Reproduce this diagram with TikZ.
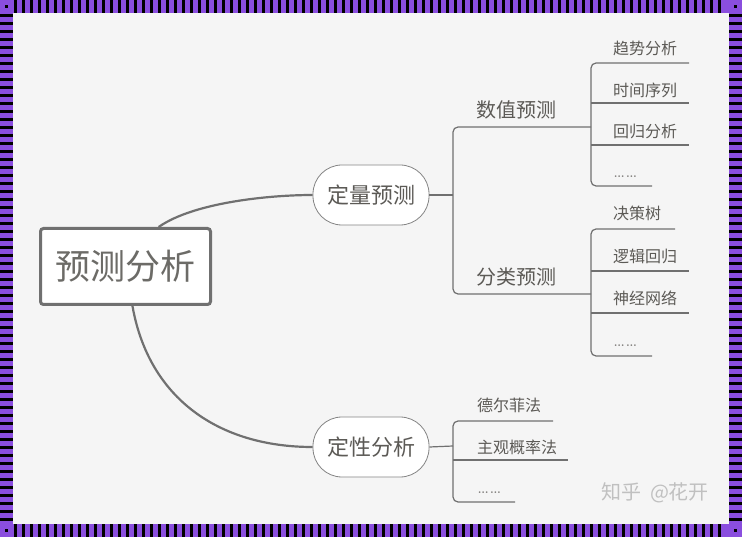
\documentclass[tikz,border=0pt]{standalone}
\usepackage{fontspec}
\newfontfamily\cjk{Noto Sans CJK SC}
\usetikzlibrary{positioning}

\definecolor{framepurple}{RGB}{138,78,222}
\definecolor{paper}{RGB}{245,245,245}
\definecolor{linegray}{RGB}{112,112,112}
\definecolor{textgray}{RGB}{92,90,86}
\definecolor{markgray}{RGB}{192,192,192}

\tikzset{
  root/.style={draw=linegray, line width=3pt, fill=white, rounded corners=3pt,
    minimum width=170pt, minimum height=76pt, inner sep=0pt,
    font=\cjk\fontsize{35pt}{40pt}\selectfont, text=textgray!90},
  topic/.style={draw=linegray!85, line width=0.8pt, fill=white, rounded corners=29pt,
    minimum width=116pt, minimum height=60pt, inner sep=0pt,
    font=\cjk\fontsize{22pt}{26pt}\selectfont, text=textgray},
  sub/.style={inner sep=0pt, font=\cjk\fontsize{20pt}{24pt}\selectfont, text=textgray},
  leaf/.style={anchor=west, inner sep=0pt, font=\cjk\fontsize{16pt}{19pt}\selectfont, text=textgray},
  more/.style={anchor=west, inner sep=0pt, font=\fontsize{21pt}{24pt}\selectfont, text=textgray!80},
  curve/.style={draw=linegray, line width=2.2pt},
  branch/.style={draw=linegray, line width=1.2pt, rounded corners=5pt},
}

\begin{document}
\begin{tikzpicture}[x=1pt, y=1pt]
\useasboundingbox (0,0) rectangle (742,-537);

% Frame
\fill[framepurple] (0,0) rectangle (742,-537);
\fill[paper] (13,-13) rectangle (729,-524);
\foreach \i in {0,...,88} {
  \fill[black] (14+8*\i,0) rectangle ++(3,-13);
  \fill[black] (14+8*\i,-524) rectangle ++(3,-13);
}
\foreach \i in {0,...,63} {
  \fill[black] (0,-14-8*\i) rectangle ++(13,-3);
  \fill[black] (729,-14-8*\i) rectangle ++(13,-3);
}
\foreach \cx/\cy in {5/-5, 734/-5, 5/-529, 734/-529}
  \fill[black] (\cx,\cy) rectangle ++(3,-3);

% Define nodes
\path
(125.5,-266.5) node[root] (root) {预测分析}
(371,-195) node[topic] (quant) {定量预测}
(371,-447) node[topic] (qual) {定性分析}
(516,-110) node[sub] (num) {数值预测}
(516,-277) node[sub] (cls) {分类预测}
;

% Branch points and line ends
\coordinate (qbr) at (453,-195);
\coordinate (lbr) at (453,-446);
\coordinate (j1) at (591,-127);
\coordinate (j2) at (591,-294);
\coordinate (a1) at (689,-63);
\coordinate (a2) at (689,-103);
\coordinate (a3) at (689,-145);
\coordinate (a4) at (652,-186);
\coordinate (b1) at (675,-229);
\coordinate (b2) at (689,-271);
\coordinate (b3) at (689,-313);
\coordinate (b4) at (652,-356);
\coordinate (c1) at (553,-421);
\coordinate (c2) at (568,-460);
\coordinate (c3) at (515,-502);

% Leaves
\path
(613,-48) node[leaf] (trend) {趋势分析}
(613,-90) node[leaf] (series) {时间序列}
(613,-131) node[leaf] (regr) {回归分析}
(613,-177) node[more] (numdots) {……}
(613,-213) node[leaf] (tree) {决策树}
(613,-256) node[leaf] (logit) {逻辑回归}
(613,-298) node[leaf] (nnet) {神经网络}
(613,-346) node[more] (clsdots) {……}
(477,-405) node[leaf] (delphi) {德尔菲法}
(477,-447) node[leaf] (subj) {主观概率法}
(477,-493) node[more] (qualdots) {……}
;

\draw[curve] (root.50) to[out=35, in=180, looseness=0.7] (quant.west);
\draw[curve] (root.-80) to[out=-80, in=180, looseness=1.05] (qual.west);

\draw[branch] (quant.east) -- (qbr);
\draw[branch] (j1) -| (qbr) |- (j2);
\draw[branch] (a1) -| (j1) |- (a4);
\draw[branch] (j1 |- a2) -- (a2);
\draw[branch] (j1 |- a3) -- (a3);
\draw[branch] (b1) -| (j2) |- (b4);
\draw[branch] (j2 |- b2) -- (b2);
\draw[branch] (j2 |- b3) -- (b3);

\draw[branch] (qual.east) -- (lbr);
\draw[branch] (c1) -| (lbr) |- (c3);
\draw[branch] (lbr |- c2) -- (c2);

% Watermark
\node[text=markgray, inner sep=0pt, font=\cjk\fontsize{20pt}{24pt}\selectfont] (mark) at (655,-493) {知乎\ \ @花开};

\end{tikzpicture}
\end{document}
